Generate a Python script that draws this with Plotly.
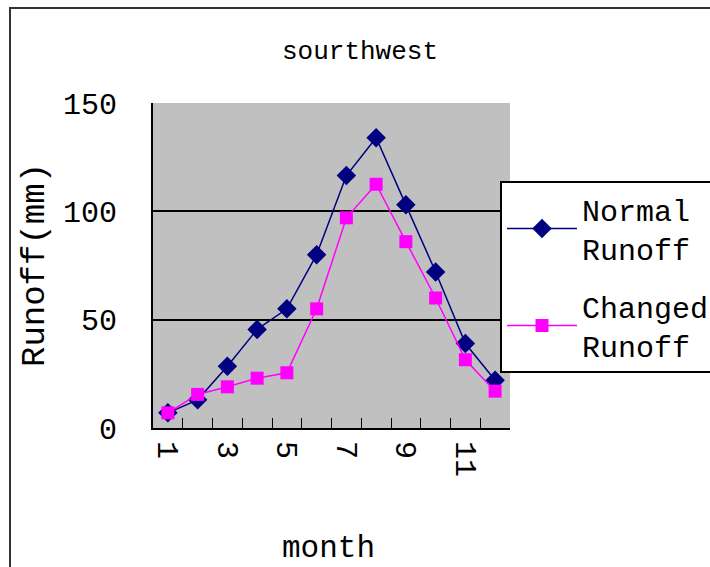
import plotly.graph_objects as go

months = [1, 2, 3, 4, 5, 6, 7, 8, 9, 10, 11, 12]
normal_runoff = [7, 13, 28.5, 45.5, 55, 80, 116.5, 134, 103, 72, 39, 22]
changed_runoff = [7, 15.5, 19, 23, 25.5, 55, 97, 112.5, 86, 60, 31.5, 17]
tick_months = [1, 3, 5, 7, 9, 11]
y_ticks = [0, 50, 100, 150]

FONT = "Liberation Mono"

L, R, T, B = 153, 510, 103, 428
W, H = 710, 567
pw, ph = R - L, B - T


def px(x):
    return (x - L) / pw


def py(y):
    return (B - y) / ph


fig = go.Figure()
fig.add_trace(go.Scatter(
    x=months, y=normal_runoff, mode="lines+markers", name="Normal<br>Runoff",
    legendgroup="a", xaxis="x", yaxis="y",
    line=dict(color="#000080", width=1.5),
    marker=dict(symbol="diamond", size=15, color="#000080"),
))
fig.add_trace(go.Scatter(
    x=months, y=changed_runoff, mode="lines+markers", name="Changed<br>Runoff",
    legendgroup="b", xaxis="x2", yaxis="y",
    line=dict(color="#FF00FF", width=1.5),
    marker=dict(symbol="square", size=13, color="#FF00FF"),
))

boundaries = [m + 0.5 for m in range(0, 13)]

fig.update_layout(
    width=W, height=H,
    margin=dict(l=L, r=W - R, t=T, b=H - B, autoexpand=False),
    paper_bgcolor="white",
    plot_bgcolor="#C0C0C0",
    font=dict(family=FONT, color="black", size=28),
    title=dict(text="sourthwest", x=360 / W, xref="container", xanchor="center",
               y=1 - 50 / H, yref="container", yanchor="middle",
               font=dict(family=FONT, size=26, color="black")),
    showlegend=True,
    legend=dict(x=px(500), xanchor="left", y=py(181), yanchor="top",
                bgcolor="white", bordercolor="black", borderwidth=2,
                font=dict(family=FONT, size=30, color="black"),
                itemwidth=70, tracegroupgap=16),
    # main x axis: category-boundary tick marks pointing into the plot
    xaxis=dict(range=[0.5, 12.5], side="bottom", anchor="y",
               tickvals=boundaries, ticks="inside", ticklen=10,
               tickcolor="black", tickwidth=1, showticklabels=False,
               showgrid=False, zeroline=False,
               showline=True, linecolor="black", linewidth=2),
    # overlaid x axis: month labels at category centres
    xaxis2=dict(range=[0.5, 12.5], overlaying="x", anchor="y", side="bottom",
                tickvals=tick_months, ticktext=[str(m) for m in tick_months],
                tickangle=90, ticks="", showgrid=False, zeroline=False, showline=False,
                ticklabelstandoff=12,
                tickfont=dict(family=FONT, size=30, color="black")),
    yaxis=dict(range=[0, 150], tickvals=y_ticks, ticks="inside", ticklen=8,
               tickcolor="black", showgrid=True, gridcolor="black", gridwidth=2,
               zeroline=False, showline=True, linecolor="black", linewidth=2,
               ticklabelstandoff=28,
               tickfont=dict(family=FONT, size=30, color="black")),
    annotations=[
        dict(text="Runoff(mm)", textangle=-90, x=px(35), y=py(265), xref="paper", yref="paper",
             showarrow=False, xanchor="center", yanchor="middle",
             font=dict(family=FONT, size=34, color="black")),
        dict(text="month", x=px(328), y=py(548), xref="paper", yref="paper",
             showarrow=False, xanchor="center", yanchor="middle",
             font=dict(family=FONT, size=31, color="black")),
    ],
    shapes=[
        dict(type="rect", xref="paper", yref="paper", x0=px(10), x1=px(720), y0=py(580), y1=py(8),
             line=dict(color="#333333", width=2), fillcolor="rgba(0,0,0,0)", layer="below"),
    ],
)

fig.write_html("out.html")
